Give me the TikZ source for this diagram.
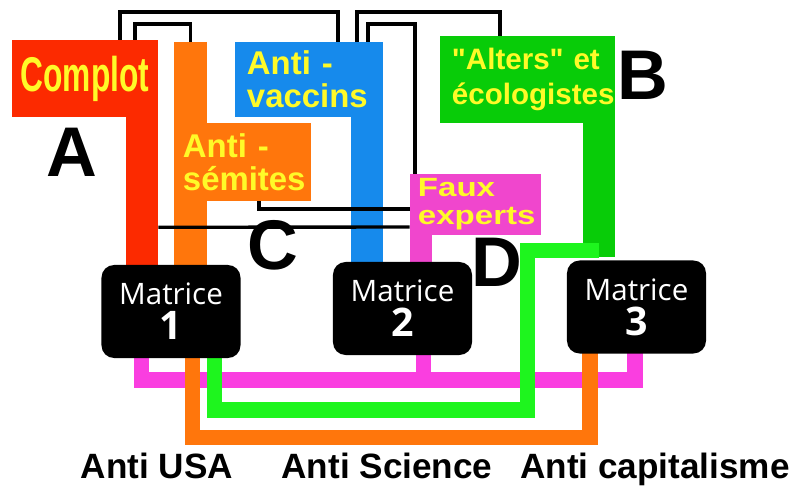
\documentclass[tikz,border=0pt]{standalone}
\usepackage{fontspec}
\setmainfont{Liberation Sans}
\newfontfamily\matfont{Open Sans}
\newfontfamily\narrowfont[FakeStretch=0.65]{Liberation Sans}
\newfontfamily\widefont[FakeStretch=1.25]{Liberation Sans}
\newfontfamily\altersfont[Ligatures=TeXOff]{Liberation Sans}
\usetikzlibrary{positioning,calc,backgrounds}
\definecolor{redc}{RGB}{252,42,0}
\definecolor{orangec}{RGB}{255,118,12}
\definecolor{bluec}{RGB}{22,138,236}
\definecolor{greenc}{RGB}{8,204,8}
\definecolor{limec}{RGB}{30,245,30}
\definecolor{pinkc}{RGB}{250,62,224}
\definecolor{fauxc}{RGB}{240,70,205}
\definecolor{yellowc}{RGB}{255,250,40}

\begin{document}
\begin{tikzpicture}[x=0.025cm,y=-0.025cm,
  box/.style={inner ysep=0pt, text=yellowc, align=left},
  matrice/.style={fill=black, rounded corners=9pt, minimum width=3.475cm, minimum height=2.325cm,
    text=white, align=center, font=\matfont\fontsize{21}{25}\selectfont},
  wire/.style={line width=2.4pt, black},
  bar/.style={line width=23pt},
  link/.style={line width=11pt},
  letter/.style={font=\bfseries\fontsize{50}{50}\selectfont},
  caption/.style={anchor=base, font=\bfseries\fontsize{25}{25}\selectfont}
]
\useasboundingbox (0,0) rectangle (797,486);

% boxes
\node[box, fill=redc, minimum width=3.65cm, minimum height=1.925cm, inner xsep=0.2cm, text width=3.25cm,
  align=center, font=\narrowfont\bfseries\fontsize{34.7}{35}\selectfont] (complot) at (85,78.5) {Complot};
\node[box, fill=orangec, minimum width=3.425cm, minimum height=1.95cm, inner xsep=0.225cm, text width=2.975cm,
  font=\bfseries\fontsize{23.4}{23.4}\selectfont] (antisem) at (242.5,162) {Anti -\\sémites};
\node[box, fill=bluec, minimum width=3.7cm, minimum height=1.875cm, inner xsep=0.3cm, text width=3.1cm,
  font=\bfseries\fontsize{23.4}{23.4}\selectfont] (antivax) at (309,79.5) {Anti -\\vaccins};
\node[box, fill=greenc, minimum width=4.375cm, minimum height=2.175cm, inner xsep=0.3cm, text width=3.775cm,
  font=\altersfont\bfseries\fontsize{21}{25.5}\selectfont] (alters) at (527.5,79.5) {"Alters" et\\écologistes};
\node[box, fill=fauxc, minimum width=3.275cm, minimum height=1.525cm, inner xsep=0.2cm, text width=2.875cm,
  font=\widefont\bfseries\fontsize{18.8}{19.8}\selectfont] (faux) at (475.5,204.5) {Faux\\experts};

% matrices
\node[matrice] (m1) at (171,311.5) {Matrice\\{\bfseries\fontsize{28}{28}\selectfont 1}};
\node[matrice] (m2) at (402.5,308.5) {Matrice\\{\bfseries\fontsize{28}{28}\selectfont 2}};
\node[matrice] (m3) at (636.5,307) {Matrice\\{\bfseries\fontsize{28}{28}\selectfont 3}};

% coloured bars behind the boxes
\coordinate (redbar) at ($(complot.south east)+(-16,0)$);
\coordinate (orangetop) at (190.5,42);
\coordinate (bluebar) at ($(antivax.south east)+(-16.5,0)$);
\coordinate (greenbar) at ($(alters.south east)+(-16,0)$);
\coordinate (pinkbar) at ($(faux.south west)+(11,0)$);
\begin{scope}[on background layer]
  \draw[bar, redc] ($(redbar)+(0,-10)$) -- (redbar |- m1.north);
  \draw[bar, orangec] (orangetop) -- (orangetop |- m1.north);
  \draw[bar, bluec] ($(bluebar)+(0,-10)$) -- (bluebar |- m2.north);
  \draw[bar, greenc] ($(greenbar)+(0,-10)$) -- ++(0,144);
  \draw[line width=15.5pt, fauxc] ($(pinkbar)+(0,-10)$) -- (pinkbar |- m2.north);
  % links under the matrices
  \draw[link, pinkc] ($(m1.south)+(-29.5,-5)$) |- ($(m3.south)+(-1.5,26)$) -- ($(m3.south)+(-1.5,-5)$);
  \draw[link, pinkc] ($(m2.south)+(21,-5)$) -- ($(m2.south)+(21,25)$);
  \draw[link, limec] ($(greenbar)+(0,127)$) -| (527.5,410) -| ($(m1.south)+(43.5,-5)$);
  \draw[link, orangec] ($(m3.south)+(-46.5,-5)$) |- ($(m1.south)+(21.5,79)$) -- ($(m1.south)+(21.5,-5)$);
\end{scope}

% black wires
\draw[wire] ($(complot.north)+(35,0)$) |- (220,12) -| ($(antivax.north)+(29,0)$);
\draw[wire] ($(complot.north)+(50,0)$) |- (160,24) -| (orangetop);
\draw[wire] ($(antivax.north)+(48,0)$) |- (430,12) -| ($(alters.north)+(-27.5,0)$);
\draw[wire] ($(antivax.north)+(59,0)$) |- (390,24) -| ($(faux.north)+(-60.5,0)$);
\draw[wire] ($(antisem.south)+(16.5,0)$) |- ($(faux.west)+(0,4.5)$);
\draw[wire] ($(complot.south east)+(0,110)$) -- ($(faux.west)+(0,22.5)$);

% letters
\node[letter] (A) at (72,152) {A};
\node[letter] (B) at (643,75) {B};
\node[letter] (C) at (273,245) {C};
\node[letter] (D) at (497,262) {D};

% captions
\node[caption] (usa) at (157,478) {Anti USA};
\node[caption] (science) at (387,478) {Anti Science};
\node[caption] (capital) at (655,478) {Anti capitalisme};
\end{tikzpicture}
\end{document}
